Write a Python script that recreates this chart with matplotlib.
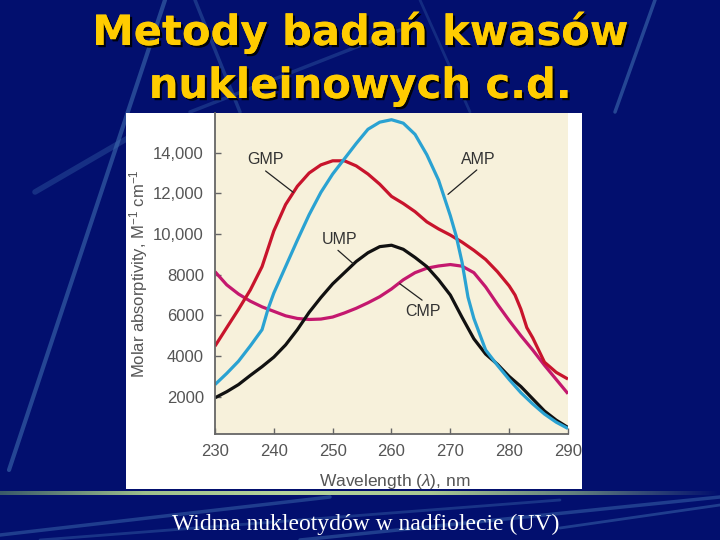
import matplotlib
matplotlib.use("Agg")
import matplotlib.pyplot as plt
import matplotlib.patheffects as pe
from matplotlib.colors import LinearSegmentedColormap
from matplotlib.lines import Line2D
from matplotlib.patches import Rectangle
import numpy as np

# -------------------------------------------------
# Data
# -------------------------------------------------

AMP_WL = [230, 232, 234, 236, 238, 239, 240, 242, 244, 246, 248, 250, 252, 254,
          256, 258, 260, 262, 264, 266, 268, 270, 271, 272, 273, 274, 276, 278,
          280, 282, 284, 286, 288, 290]
AMP_EPS = [2600, 3150, 3750, 4500, 5300, 6300, 7100, 8400, 9700, 10950, 12050,
           12950, 13700, 14450, 15150, 15500, 15620, 15450, 14900, 13900, 12650,
           10900, 9900, 8600, 6900, 5850, 4300, 3550, 2850, 2200, 1650, 1150,
           750, 440]

GMP_WL = [230, 232, 234, 236, 238, 240, 242, 244, 246, 248, 250, 252, 254, 256,
          258, 260, 262, 264, 266, 268, 270, 272, 274, 276, 278, 280, 281, 282,
          283, 284, 286, 288, 290]
GMP_EPS = [4490, 5400, 6300, 7250, 8400, 10150, 11450, 12350, 13000, 13400,
           13600, 13600, 13350, 12950, 12450, 11850, 11500, 11100, 10600, 10250,
           9950, 9600, 9200, 8750, 8150, 7450, 7000, 6300, 5400, 4900, 3700,
           3200, 2870]

UMP_WL = [230, 232, 234, 236, 238, 240, 242, 244, 246, 248, 250, 252, 254, 256,
          258, 260, 262, 264, 266, 268, 270, 272, 274, 276, 278, 280, 282, 284,
          286, 288, 290]
UMP_EPS = [1950, 2250, 2600, 3050, 3480, 3950, 4550, 5300, 6150, 6880, 7550,
           8100, 8650, 9080, 9380, 9450, 9250, 8850, 8400, 7750, 7000, 5900,
           4850, 4100, 3600, 3000, 2500, 1900, 1300, 850, 490]

CMP_WL = [230, 232, 234, 236, 238, 240, 242, 244, 246, 248, 250, 252, 254, 256,
          258, 260, 262, 264, 266, 268, 270, 272, 274, 276, 278, 280, 282, 284,
          286, 288, 290]
CMP_EPS = [8150, 7500, 7050, 6700, 6420, 6200, 5980, 5850, 5800, 5820, 5920,
           6120, 6350, 6620, 6920, 7300, 7750, 8100, 8320, 8430, 8500, 8420,
           8100, 7400, 6550, 5750, 5000, 4300, 3550, 2850, 2150]

X_TICKS = [230, 240, 250, 260, 270, 280, 290]
Y_TICKS = [2000, 4000, 6000, 8000, 10000, 12000, 14000]
Y_TICK_LABELS = ["2000", "4000", "6000", "8000", "10,000", "12,000", "14,000"]

# label text position, leader start, leader end
LABELS = [
    ("GMP", (238.5, 13660), (238.6, 13100), (243.3, 12050)),
    ("AMP", (274.7, 13660), (274.5, 13150), (269.6, 11950)),
    ("UMP", (251.2, 9710), (250.9, 9200), (253.5, 8540)),
    ("CMP", (265.4, 6200), (265.2, 6750), (261.4, 7560)),
]

TITLE_1 = "Metody badań kwasów"
TITLE_2 = "nukleinowych c.d."
CAPTION = "Widma nukleotydów w nadfiolecie (UV)"

# -------------------------------------------------
# Style
# -------------------------------------------------

NAVY = "#020f6e"
STREAK = "#3d6cae"
GRAY = "#555555"

plt.rcParams["font.family"] = ["Liberation Sans", "DejaVu Sans"]
plt.rcParams["mathtext.fontset"] = "custom"
plt.rcParams["mathtext.rm"] = "Liberation Sans"
plt.rcParams["mathtext.it"] = "Liberation Sans:italic"

fig = plt.figure(figsize=(7.2, 5.4), dpi=100, facecolor=NAVY)

# background streaks (slide decoration)
streaks = [
    ((9, 470), (165, 0), 3.0, 0.6),
    ((35, 192), (128, 138), 4.0, 0.35),
    ((195, 0), (240, 112), 2.5, 0.4),
    ((190, 112), (400, 30), 2.5, 0.35),
    ((615, 112), (655, 0), 2.5, 0.6),
    ((420, 0), (470, 112), 2.0, 0.3),
    ((0, 535), (330, 497), 2.5, 0.5),
    ((40, 540), (560, 500), 2.0, 0.4),
    ((300, 540), (720, 497), 2.5, 0.5),
    ((560, 528), (720, 505), 2.0, 0.5),
]
for (x0, y0), (x1, y1), lw, a in streaks:
    fig.add_artist(Line2D([x0 / 720, x1 / 720], [1 - y0 / 540, 1 - y1 / 540],
                          transform=fig.transFigure, color=STREAK, lw=lw,
                          alpha=a, solid_capstyle="round", zorder=0))

# separator band above the caption
band = fig.add_axes([0, 1 - 495 / 540, 1, 4 / 540], zorder=1)
band_cmap = LinearSegmentedColormap.from_list(
    "band", ["#3a5a6a", "#9ebf8c", "#b6d49c", "#a8c692", "#62807e", NAVY])
band.imshow(np.linspace(0, 1, 256)[np.newaxis, :], aspect="auto",
            cmap=band_cmap, extent=[0, 1, 0, 1])
band.set_axis_off()

# white chart panel
fig.add_artist(Rectangle((126 / 720, 1 - 489 / 540), (582 - 126) / 720,
                         (489 - 113) / 540, transform=fig.transFigure,
                         facecolor="white", edgecolor="none", zorder=1))

# -------------------------------------------------
# Spectra
# -------------------------------------------------

ax = fig.add_axes([215 / 720, 1 - 434 / 540, (568 - 215) / 720, (434 - 113) / 540],
                  zorder=2)
ax.set_facecolor("#f7f1db")

ax.plot(CMP_WL, CMP_EPS, color="#c4186e", lw=2.3, solid_capstyle="butt")
ax.plot(UMP_WL, UMP_EPS, color="#111111", lw=2.3, solid_capstyle="butt")
ax.plot(GMP_WL, GMP_EPS, color="#c8142c", lw=2.3, solid_capstyle="butt")
ax.plot(AMP_WL, AMP_EPS, color="#2aa2d2", lw=2.3, solid_capstyle="butt")

for name, pos, start, end in LABELS:
    ax.text(pos[0], pos[1], name, ha="center", va="center", fontsize=11.5,
            color="#333333")
    ax.annotate("", xy=end, xytext=start,
                arrowprops=dict(arrowstyle="-", lw=0.9, color="#222222",
                                shrinkA=0, shrinkB=0))

ax.set_xlim(230, 290)
ax.set_ylim(170, 15950)
ax.set_xticks(X_TICKS)
ax.set_yticks(Y_TICKS)
ax.set_yticklabels(Y_TICK_LABELS)
ax.tick_params(direction="in", length=4, width=1, color="#666666",
               labelcolor=GRAY, labelsize=12)
ax.tick_params(axis="y", pad=8)
ax.tick_params(axis="x", pad=7)

for side in ["top", "right"]:
    ax.spines[side].set_visible(False)
for side in ["left", "bottom"]:
    ax.spines[side].set_color("#666666")
    ax.spines[side].set_linewidth(1.3)

ax.set_xlabel(r"Wavelength ($\lambda$), nm", fontsize=12.5, color=GRAY)
ax.set_ylabel(r"Molar absorptivity, M$^{-1}$ cm$^{-1}$", fontsize=12, color=GRAY)
ax.xaxis.set_label_coords(0.51, -0.118)
ax.yaxis.set_label_coords(-0.183, 0.5)

# -------------------------------------------------
# Slide texts
# -------------------------------------------------

shadow = [pe.withSimplePatchShadow(offset=(1.6, -1.6), shadow_rgbFace="black",
                                   alpha=0.9), pe.Normal()]
for txt, base in [(TITLE_1, 45), (TITLE_2, 98)]:
    fig.text(0.5, 1 - base / 540, txt, ha="center", va="baseline",
             fontsize=30, fontweight="bold", color="#ffcc00",
             family="DejaVu Sans", path_effects=shadow, zorder=3)

fig.text(366 / 720, 1 - 530 / 540, CAPTION, ha="center", va="baseline",
         fontsize=17, color="white", family="Liberation Serif", zorder=3)

fig.savefig("out.png", dpi=100, facecolor=NAVY)
